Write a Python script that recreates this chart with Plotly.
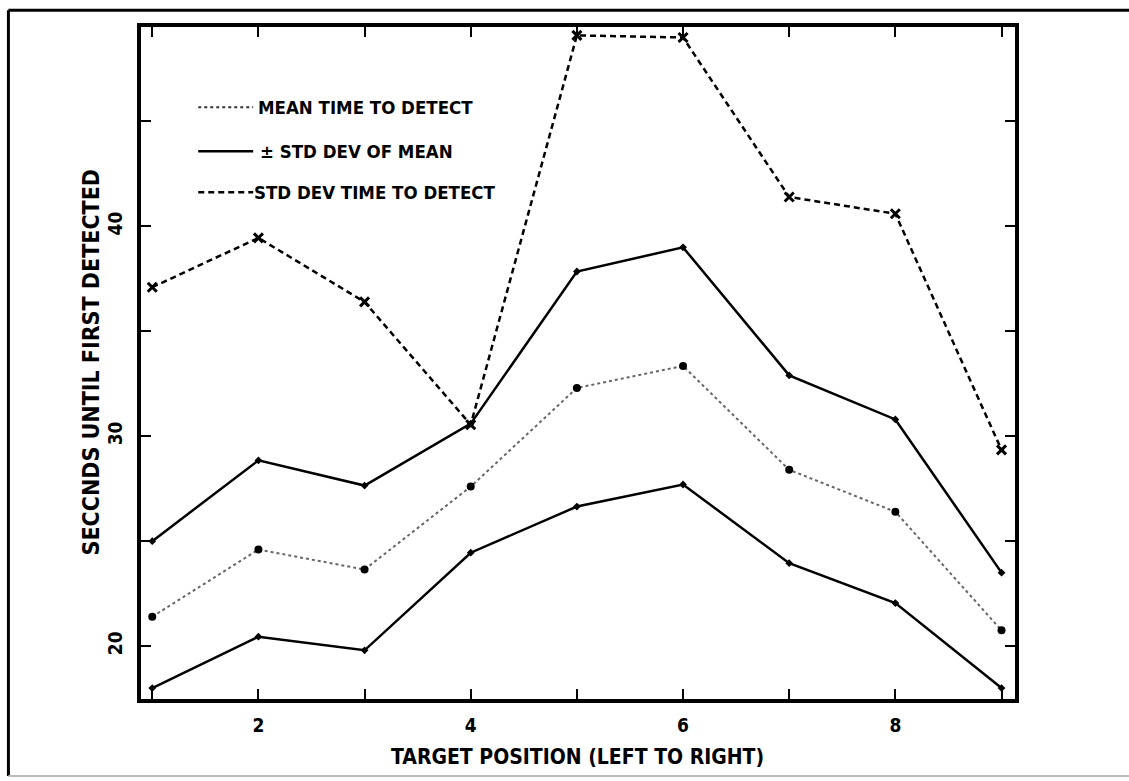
import plotly.graph_objects as go

# Target position along the display (left to right)
positions = [1, 2, 3, 4, 5, 6, 7, 8, 9]

# Seconds until first detected
mean_time = [21.4, 24.6, 23.65, 27.6, 32.3, 33.35, 28.4, 26.4, 20.75]
mean_plus_sd = [25.0, 28.85, 27.65, 30.6, 37.85, 39.0, 32.9, 30.8, 23.5]
mean_minus_sd = [18.0, 20.45, 19.8, 24.45, 26.65, 27.7, 23.95, 22.05, 18.0]
sd_time = [37.1, 39.45, 36.4, 30.55, 49.1, 49.0, 41.4, 40.6, 29.35]

x_tick_vals = [1, 2, 3, 4, 5, 6, 7, 8, 9]
x_tick_text = ["", "2", "", "4", "", "6", "", "8", ""]
y_tick_vals = [20, 25, 30, 35, 40, 45]
y_tick_text = ["20", "", "30", "", "40", ""]

legend_labels = ["MEAN TIME TO DETECT", "\u00b1 STD DEV OF MEAN", "STD DEV TIME TO DETECT"]

W, H = 1129, 781
L, R, T, B = 140.7, 1015.5, 26.7, 699.0
FONT = "DejaVu Sans Condensed, Liberation Sans Narrow, Arial Narrow, sans-serif"


def px(xp):
    return (xp - L) / (R - L)


def py(yp):
    return (B - yp) / (B - T)


fig = go.Figure()

fig.add_trace(go.Scatter(
    x=positions, y=sd_time, mode="lines+markers",
    line=dict(color="black", width=2.5, dash="6px,4px"),
    marker=dict(symbol="x-thin", size=9, line=dict(color="black", width=3)),
))
fig.add_trace(go.Scatter(
    x=positions, y=mean_plus_sd, mode="lines+markers",
    line=dict(color="black", width=2.5),
    marker=dict(symbol="diamond", size=6, color="black"),
))
fig.add_trace(go.Scatter(
    x=positions, y=mean_minus_sd, mode="lines+markers",
    line=dict(color="black", width=2.5),
    marker=dict(symbol="diamond", size=6, color="black"),
))
fig.add_trace(go.Scatter(
    x=positions, y=mean_time, mode="lines+markers",
    line=dict(color="#666666", width=2, dash="dot"),
    marker=dict(symbol="circle", size=8, color="black"),
))

shapes = []
# legend samples
legend_rows = [107, 151, 192]
legend_styles = [
    dict(color="#333333", width=2, dash="dot"),
    dict(color="black", width=2.5),
    dict(color="black", width=2.5, dash="6px,4px"),
]
annotations = []
for yp, style, label, xt in zip(legend_rows, legend_styles, legend_labels, [256, 258, 252]):
    shapes.append(dict(type="line", xref="paper", yref="paper",
                       x0=px(198), x1=px(253), y0=py(yp), y1=py(yp), line=style))
    annotations.append(dict(xref="paper", yref="paper", x=px(xt), y=py(yp),
                            text=label, showarrow=False, xanchor="left", yanchor="middle",
                            font=dict(family=FONT, size=18.5, color="black", weight="bold")))

# outer page frame
shapes.append(dict(type="line", xref="paper", yref="paper", x0=px(8), x1=px(1135),
                   y0=py(10), y1=py(10), line=dict(color="black", width=3)))
shapes.append(dict(type="line", xref="paper", yref="paper", x0=px(8), x1=px(8),
                   y0=py(10), y1=py(776), line=dict(color="black", width=3)))
shapes.append(dict(type="line", xref="paper", yref="paper", x0=px(8), x1=px(1135),
                   y0=py(776), y1=py(776), line=dict(color="#bbbbbb", width=2)))

annotations.append(dict(xref="paper", yref="paper", x=px(578), y=py(757),
                        text="TARGET POSITION (LEFT TO RIGHT)", showarrow=False,
                        xanchor="center", yanchor="middle",
                        font=dict(family=FONT, size=21, color="black", weight="bold")))
annotations.append(dict(xref="paper", yref="paper", x=px(91), y=py(362),
                        text="SECCNDS UNTIL FIRST DETECTED", showarrow=False, textangle=-90,
                        xanchor="center", yanchor="middle",
                        font=dict(family=FONT, size=23, color="black", weight="bold")))

axis_common = dict(
    showline=True, linecolor="black", linewidth=3.5, mirror="ticks",
    ticks="inside", ticklen=10, tickwidth=2, tickcolor="black",
    showgrid=False, zeroline=False,
    tickfont=dict(family=FONT, size=19, color="black", weight="bold"),
)

fig.update_layout(
    width=W, height=H,
    margin=dict(l=L, r=W - R, t=T, b=H - B, pad=0),
    paper_bgcolor="white", plot_bgcolor="white",
    showlegend=False,
    xaxis=dict(range=[0.894, 9.127], tickmode="array", tickvals=x_tick_vals,
               ticktext=x_tick_text, ticklabelstandoff=6, **axis_common),
    yaxis=dict(range=[17.48, 49.5], tickmode="array", tickvals=y_tick_vals,
               ticktext=y_tick_text, tickangle=-90, ticklabelstandoff=8, **axis_common),
    shapes=shapes,
    annotations=annotations,
)

fig.write_html("out.html")
